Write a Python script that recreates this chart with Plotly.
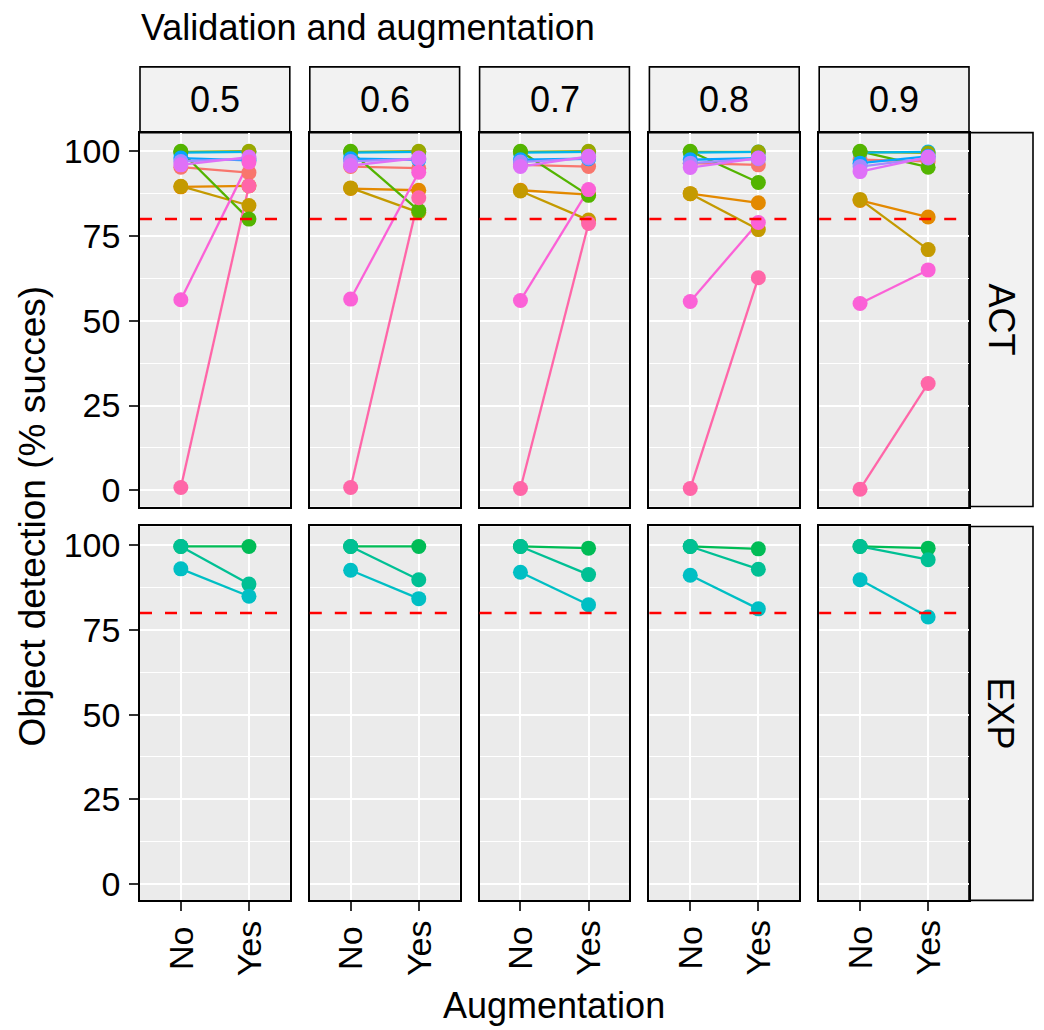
import plotly.graph_objects as go

# ---------------- data ----------------
THRESHOLDS = ["0.5", "0.6", "0.7", "0.8", "0.9"]
AUG_LEVELS = ["No", "Yes"]
ROWS = ["ACT", "EXP"]
Y_TICKS = [0, 25, 50, 75, 100]
Y_MINOR = [12.5, 37.5, 62.5, 87.5]
THRESHOLD_LINE = 80

# hue palette for the 14 groups
GROUP_COLORS = ["#F8766D", "#E38900", "#C49A00", "#99A800", "#53B400", "#00BC56", "#00C094",
                "#00BFC4", "#00B6EB", "#06A4FF", "#A58AFF", "#DF70F8", "#FB61D7", "#FF66A8"]

# ACT groups: (No, Yes) per threshold 0.5..0.9
G01_ACT = [(95.3, 93.7), (95.5, 95.0), (96.0, 95.5), (96.5, 96.0), (97.5, 97.0)]
G02_ACT = [(89.5, 89.8), (89.0, 88.5), (88.5, 87.2), (87.5, 84.8), (85.5, 80.6)]
G03_ACT = [(89.7, 84.0), (89.2, 82.0), (88.3, 79.7), (87.5, 76.9), (85.8, 71.0)]
G04_ACT = [(99.8, 100.0), (99.8, 100.0), (99.8, 100.0), (99.8, 99.8), (99.8, 99.5)]
G05_ACT = [(100.0, 80.0), (100.0, 82.5), (100.0, 87.0), (100.0, 90.8), (100.0, 95.3)]
G09_ACT = [(99.6, 99.8), (99.6, 99.8), (99.6, 99.8), (99.6, 99.8), (99.6, 99.8)]
G10_ACT = [(98.0, 97.3), (97.8, 97.5), (97.5, 97.8), (97.5, 98.0), (96.5, 98.5)]
G11_ACT = [(97.0, 97.8), (97.0, 97.8), (96.8, 98.0), (96.5, 97.8), (95.5, 98.0)]
G12_ACT = [(96.0, 98.3), (95.8, 98.0), (95.5, 98.5), (95.2, 98.0), (94.0, 98.3)]
G13_ACT = [(56.2, 96.8), (56.4, 93.8), (56.0, 88.7), (55.7, 79.0), (55.1, 65.0)]
G14_ACT = [(0.8, 89.8), (0.8, 86.3), (0.5, 78.7), (0.5, 62.7), (0.3, 31.5)]

# EXP groups
G06_EXP = [(99.6, 99.6), (99.6, 99.6), (99.6, 99.1), (99.6, 98.9), (99.6, 99.1)]
G07_EXP = [(99.6, 88.5), (99.6, 89.8), (99.6, 91.3), (99.6, 92.9), (99.6, 95.7)]
G08_EXP = [(93.0, 84.9), (92.6, 84.2), (92.0, 82.4), (91.1, 81.2), (89.8, 78.8)]

# drawing order (later on top)
ACT_LINE_ORDER = [(0, G01_ACT), (1, G02_ACT), (2, G03_ACT), (3, G04_ACT), (4, G05_ACT), (8, G09_ACT),
                  (9, G10_ACT), (10, G11_ACT), (11, G12_ACT), (12, G13_ACT), (13, G14_ACT)]
ACT_POINT_ORDER = [(0, G01_ACT), (1, G02_ACT), (2, G03_ACT), (8, G09_ACT), (3, G04_ACT), (4, G05_ACT),
                   (9, G10_ACT), (10, G11_ACT), (11, G12_ACT), (12, G13_ACT), (13, G14_ACT)]
EXP_ORDER = [(5, G06_EXP), (6, G07_EXP), (7, G08_EXP)]
ROW_LINES = [ACT_LINE_ORDER, EXP_ORDER]
ROW_POINTS = [ACT_POINT_ORDER, EXP_ORDER]

TITLE = "Validation and augmentation"
Y_TITLE = "Object detection (% succes)"
X_TITLE = "Augmentation"

# ---------------- layout geometry (page pixels) ----------------
PAGE_OFF = 8  # default body margin of the html page
W, H = 1044 - PAGE_OFF, 1030 - PAGE_OFF
FONT = "Liberation Sans, Arial, sans-serif"
PX0, PW, PGAP = 140.0, 149.8, 20.0
ROW_Y = [(133.0, 508.0), (528.0, 903.0)]
TOP_STRIP = (67.0, 133.0)
RIGHT_STRIP_X = (969.0, 1033.0)
Y_RANGE = [-4.8, 105.5]


def fx(px):
    return (px - PAGE_OFF) / W


def fy(py):
    return 1 - (py - PAGE_OFF) / H


fig = go.Figure()

layout = dict(
    width=W, height=H,
    margin=dict(l=0, r=0, t=0, b=0),
    paper_bgcolor="white",
    plot_bgcolor="#EBEBEB",
    showlegend=False,
    font=dict(family=FONT, color="black"),
)

shapes = []
annotations = []

for r in range(2):
    for c in range(5):
        idx = r * 5 + c + 1
        xn = "x" if idx == 1 else f"x{idx}"
        yn = "y" if idx == 1 else f"y{idx}"
        x0 = PX0 + c * (PW + PGAP)
        x1 = x0 + PW
        yt, yb = ROW_Y[r]
        xa = dict(
            domain=[fx(x0), fx(x1)], anchor=yn,
            type="category", categoryorder="array", categoryarray=AUG_LEVELS,
            range=[-0.6, 1.6], showgrid=True, gridcolor="white", gridwidth=2.2,
            zeroline=False, showline=True, mirror=True, linecolor="black", linewidth=1.6,
            showticklabels=False, fixedrange=True,
            ticks="outside" if r == 1 else "", ticklen=9, tickwidth=1.8, tickcolor="#333333",
        )
        ya = dict(
            domain=[fy(yb), fy(yt)], anchor=xn,
            range=Y_RANGE, tickvals=Y_TICKS, ticktext=[str(v) for v in Y_TICKS],
            showgrid=True, gridcolor="white", gridwidth=2.2,
            minor=dict(tickvals=Y_MINOR, showgrid=True, gridcolor="white", gridwidth=1, ticks=""),
            zeroline=False, showline=True, mirror=True, linecolor="black", linewidth=1.6,
            showticklabels=(c == 0), fixedrange=True,
            ticks="outside" if c == 0 else "", ticklen=9, tickwidth=1.8, tickcolor="#333333",
            tickfont=dict(size=34, family=FONT, color="black"), ticklabelstandoff=2,
        )
        layout["xaxis" if idx == 1 else f"xaxis{idx}"] = xa
        layout["yaxis" if idx == 1 else f"yaxis{idx}"] = ya

        # threshold line
        shapes.append(dict(type="line", xref=f"{xn} domain", yref=yn,
                           x0=0, x1=1, y0=THRESHOLD_LINE, y1=THRESHOLD_LINE,
                           line=dict(color="red", width=2.5, dash="12px,13px"), layer="above"))

        # lines first
        for gi, vals in ROW_LINES[r]:
            no, yes = vals[c]
            fig.add_trace(go.Scatter(x=AUG_LEVELS, y=[no, yes], mode="lines",
                                     line=dict(color=GROUP_COLORS[gi], width=2.3),
                                     xaxis=xn, yaxis=yn, hoverinfo="skip"))
        for gi, vals in ROW_POINTS[r]:
            no, yes = vals[c]
            fig.add_trace(go.Scatter(x=AUG_LEVELS, y=[no, yes], mode="markers",
                                     marker=dict(color=GROUP_COLORS[gi], size=15),
                                     xaxis=xn, yaxis=yn))

        # bottom x tick labels (centered, rotated)
        if r == 1:
            for lvl in AUG_LEVELS:
                annotations.append(dict(text=lvl, x=lvl, xref=xn, y=fy(951), yref="paper",
                                        showarrow=False, textangle=-90, xanchor="center",
                                        yanchor="middle", font=dict(size=34, family=FONT, color="black")))

# top strips
for c, lab in enumerate(THRESHOLDS):
    x0 = PX0 + c * (PW + PGAP)
    x1 = x0 + PW
    shapes.append(dict(type="rect", xref="paper", yref="paper",
                       x0=fx(x0), x1=fx(x1), y0=fy(TOP_STRIP[1]), y1=fy(TOP_STRIP[0]),
                       fillcolor="#F2F2F2", line=dict(color="black", width=1.6), layer="below"))
    annotations.append(dict(text=lab, x=fx((x0 + x1) / 2), y=fy(sum(TOP_STRIP) / 2),
                            xref="paper", yref="paper", showarrow=False,
                            xanchor="center", yanchor="middle",
                            font=dict(size=36, family=FONT, color="black")))

# right strips
for r, lab in enumerate(ROWS):
    yt, yb = ROW_Y[r]
    shapes.append(dict(type="rect", xref="paper", yref="paper",
                       x0=fx(RIGHT_STRIP_X[0]), x1=fx(RIGHT_STRIP_X[1]), y0=fy(yb), y1=fy(yt),
                       fillcolor="#F2F2F2", line=dict(color="black", width=1.6), layer="below"))
    annotations.append(dict(text=lab, x=fx(sum(RIGHT_STRIP_X) / 2), y=fy((yt + yb) / 2),
                            xref="paper", yref="paper", showarrow=False, textangle=90,
                            xanchor="center", yanchor="middle",
                            font=dict(size=36, family=FONT, color="black")))

# titles
annotations.append(dict(text=TITLE, x=fx(139), y=fy(28), xref="paper", yref="paper",
                        showarrow=False, xanchor="left", yanchor="middle",
                        font=dict(size=36, family=FONT, color="black")))
annotations.append(dict(text=Y_TITLE, x=fx(33), y=fy(518), xref="paper", yref="paper",
                        showarrow=False, textangle=-90, xanchor="center", yanchor="middle",
                        font=dict(size=37, family=FONT, color="black")))
annotations.append(dict(text=X_TITLE, x=fx(554), y=fy(1008), xref="paper", yref="paper",
                        showarrow=False, xanchor="center", yanchor="middle",
                        font=dict(size=36, family=FONT, color="black")))

layout["shapes"] = shapes
layout["annotations"] = annotations
fig.update_layout(**layout)

fig.write_html("out.html")
